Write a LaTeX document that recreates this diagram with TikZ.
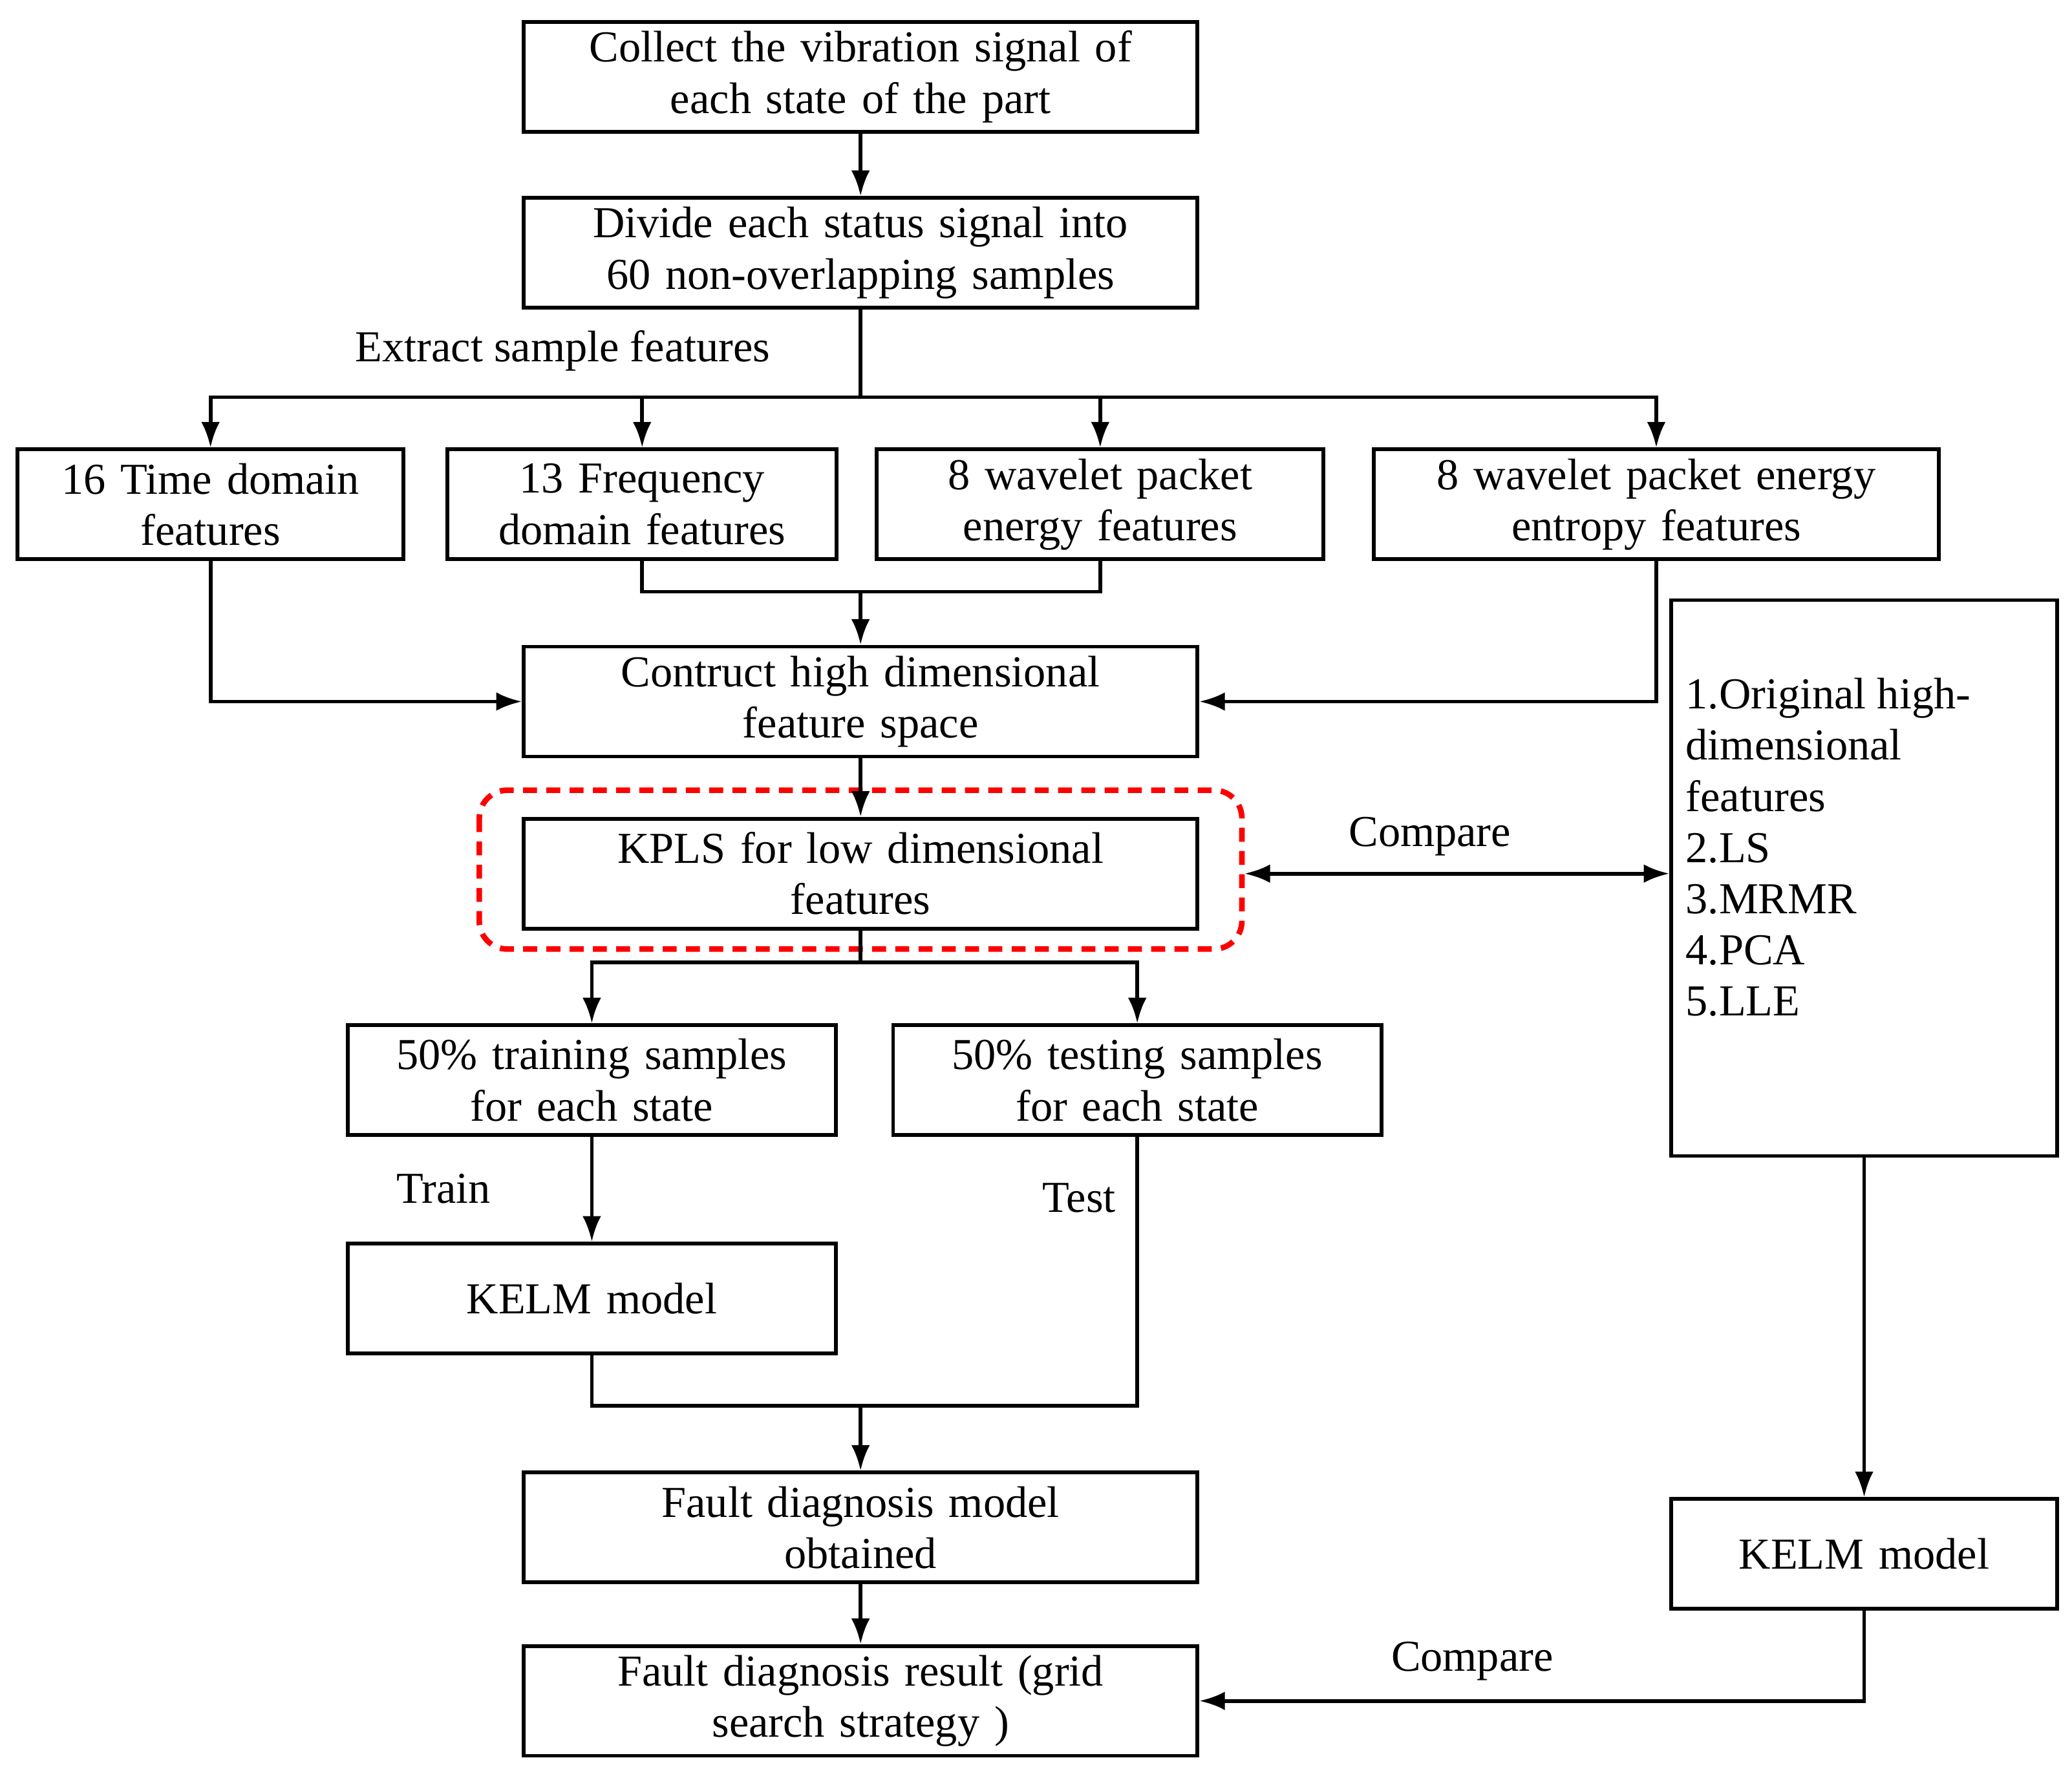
\documentclass[tikz,border=0pt]{standalone}
\usepackage{fontspec}
\setmainfont{Liberation Serif}
\usetikzlibrary{arrows.meta,positioning,calc}
\tikzset{
  box/.style={draw, line width=1.6pt, align=center, inner xsep=0.04cm, inner ysep=0pt, minimum height=1.66cm, font=\fontsize{19}{22}\selectfont},
  flow/.style={line width=1.6pt, -{Latex[length=11pt,width=8pt]}},
  link/.style={line width=1.6pt},
  lbl/.style={font=\fontsize{19}{22}\selectfont}
}
\begin{document}
\begin{tikzpicture}[x=0.02cm,y=-0.02cm]
      \useasboundingbox (0,0) rectangle (1565,1336);
      % Define nodes
      \node[box, text width=10.1cm] (collect) at (650,58) {Collect the vibration signal of\\each state of the part};
      \node[box, text width=10.1cm] (divide) at (650,191) {Divide each status signal into\\60 non-overlapping samples};
      \node[box, text width=5.75cm] (time) at (159,381) {16 Time domain\\features};
      \node[box, text width=5.8cm] (freq) at (485,381) {13 Frequency\\domain features};
      \node[box, text width=6.67cm] (wpe) at (831,381) {8 wavelet packet\\energy features};
      \node[box, text width=8.45cm] (wpee) at (1251,381) {8 wavelet packet energy\\entropy features};
      \node[box, text width=10.1cm] (space) at (650,530) {Contruct high dimensional\\feature space};
      \node[box, text width=10.1cm] (kpls) at (650,660) {KPLS for low dimensional\\features};
      \node[box, text width=7.3cm] (train) at (447,816) {50\% training samples\\for each state};
      \node[box, text width=7.3cm] (test) at (859,816) {50\% testing samples\\for each state};
      \node[box, text width=7.3cm] (kelm) at (447,981) {KELM model};
      \node[box, text width=10.1cm] (model) at (650,1154) {Fault diagnosis model\\obtained};
      \node[box, text width=10.1cm] (result) at (650,1285) {Fault diagnosis result (grid\\search strategy )};
      \node[box, anchor=north, text width=5.75cm, minimum height=8.4cm] (methods) at (1408,452) {};
      \node[lbl, anchor=north west, align=left, inner sep=0pt] at (1273,512) {1.Original high-\\dimensional\\features\\2.LS\\3.MRMR\\4.PCA\\5.LLE};
      \node[box, text width=5.75cm] (kelm2) at (1408,1174) {KELM model};
      \draw[red, line width=2.4pt, dash pattern=on 6pt off 4pt, rounded corners=12pt] (362,597) rectangle (938,717);
      \coordinate (redR) at (940,660);
      \coordinate (split) at (650,300);
      \coordinate (join) at (650,447);
      \coordinate (fork) at (650,727);
      \coordinate (merge) at (650,1062);

      % Draw edges
      \draw[flow] (collect) -- (divide);
      \draw[link] (divide) -- (split);
      \draw[flow] (split) -| (time.north);
      \draw[flow] (split) -| (freq.north);
      \draw[flow] (split) -| (wpe.north);
      \draw[flow] (split) -| (wpee.north);
      \draw[link] (freq.south) |- (join) -| (wpe.south);
      \draw[flow] (join) -- (space);
      \draw[flow] (time.south) |- (space.west);
      \draw[flow] (wpee.south) |- (space.east);
      \draw[flow] (space) -- (kpls);
      \draw[link] (kpls) -- (fork);
      \draw[flow] (fork) -| (train.north);
      \draw[flow] (fork) -| (test.north);
      \draw[flow] (train) -- (kelm);
      \draw[link] (kelm.south) |- (merge) -| (test.south);
      \draw[flow] (merge) -- (model);
      \draw[flow] (model) -- (result);
      \draw[flow, {Latex[length=11pt,width=8pt]}-{Latex[length=11pt,width=8pt]}] (redR) -- (methods.west |- redR);
      \draw[flow] (methods) -- (kelm2);
      \draw[flow] (kelm2.south) |- (result.east);

      % Labels
      \node[lbl] at (425,265) {Extract sample features};
      \node[lbl] at (1080,632) {Compare};
      \node[lbl] at (335,898) {Train};
      \node[lbl] at (815,905) {Test};
      \node[lbl] at (1112,1255) {Compare};
\end{tikzpicture}
\end{document}
